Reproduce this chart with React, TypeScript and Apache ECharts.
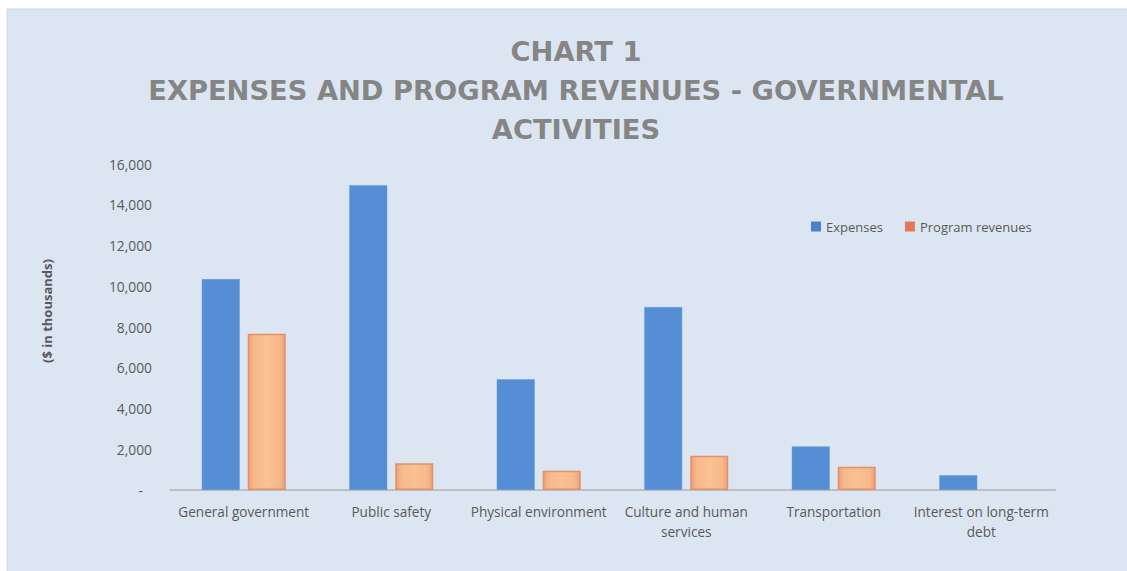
import React, { useEffect, useRef } from "react";
import * as echarts from "echarts";

const categories = [
  "General government",
  "Public safety",
  "Physical environment",
  "Culture and human\nservices",
  "Transportation",
  "Interest on long-term\ndebt",
];
const expenses = [10350, 14960, 5430, 8980, 2140, 720];
const programRevenues = [7670, 1310, 950, 1680, 1140, 0];
const yTicks = [0, 2000, 4000, 6000, 8000, 10000, 12000, 14000, 16000];
const titleLines = ["CHART 1", "EXPENSES AND PROGRAM REVENUES - GOVERNMENTAL", "ACTIVITIES"];
const yAxisTitle = "($ in thousands)";

export default function App() {
  const ref = useRef<HTMLDivElement>(null);
  useEffect(() => {
    document.body.style.margin = "0";
    const chart = echarts.init(ref.current!, null, { renderer: "svg" });
    const labelColor = "#595959";
    const font = "'Open Sans', sans-serif";
    chart.setOption({
      animation: false,
      backgroundColor: "#ffffff",
      title: {
        text: titleLines.join("\n"),
        left: 571,
        top: 27,
        textAlign: "center",
        textStyle: {
          color: "#858585",
          fontFamily: "'DejaVu Sans', sans-serif",
          fontWeight: "bold",
          fontSize: 27.3,
          lineHeight: 39,
        },
      },
      graphic: [
        {
          type: "rect",
          z: -10,
          silent: true,
          shape: { x: 7, y: 9, width: 1130, height: 575 },
          style: { fill: "#dce6f2", stroke: "#cfd5dc", lineWidth: 1 },
        },
        {
          type: "text",
          x: 47,
          y: 311,
          rotation: Math.PI / 2,
          style: {
            text: yAxisTitle,
            fill: labelColor,
            font: "bold 13px 'Open Sans', sans-serif",
            align: "center",
            verticalAlign: "middle",
          },
        },
      ],
      legend: {
        data: [
          { name: "Expenses", itemStyle: { color: "#4f81c9", borderWidth: 0 } },
          { name: "Program revenues", itemStyle: { color: "#e4785a", borderWidth: 0 } },
        ],
        left: 806,
        top: 215,
        itemWidth: 10,
        itemHeight: 10,
        itemGap: 22,
        icon: "rect",
        textStyle: { color: labelColor, fontFamily: font, fontSize: 13 },
      },
      grid: { left: 170, right: 72, top: 164, bottom: 81, containLabel: false },
      xAxis: {
        type: "category",
        data: categories,
        axisLine: { show: true, lineStyle: { color: "#bfbfbf", width: 2 } },
        axisTick: { show: false },
        axisLabel: {
          color: labelColor,
          fontFamily: font,
          fontSize: 13.6,
          lineHeight: 20,
          margin: 11,
          interval: 0,
        },
      },
      yAxis: {
        type: "value",
        min: 0,
        max: yTicks[yTicks.length - 1],
        interval: yTicks[1] - yTicks[0],
        axisLine: { show: false },
        axisTick: { show: false },
        splitLine: { show: false },
        axisLabel: {
          color: labelColor,
          fontFamily: font,
          fontSize: 13.8,
          margin: 18,
          formatter: (v: number) =>
            v === 0 ? "{d|-}" : v.toLocaleString("en-US"),
          rich: { d: { padding: [0, 9, 0, 0], color: labelColor, fontFamily: font, fontSize: 13.8 } },
        },
      },
      series: [
        {
          name: "Expenses",
          type: "bar",
          data: expenses,
          barWidth: 38,
          barGap: "21%",
          itemStyle: { color: "#558ed5", borderColor: "#6a9ddc", borderWidth: 0.5 },
        },
        {
          name: "Program revenues",
          type: "bar",
          data: programRevenues.map((v) => (v === 0 ? "-" : v)),
          barWidth: 38,
          itemStyle: {
            color: {
              type: "linear",
              x: 0,
              y: 0,
              x2: 1,
              y2: 0,
              colorStops: [
                { offset: 0, color: "#ee9f78" },
                { offset: 0.15, color: "#f7b98b" },
                { offset: 0.5, color: "#fac192" },
                { offset: 0.85, color: "#f7b98b" },
                { offset: 1, color: "#ee9f78" },
              ],
            },
            borderColor: "#e58f69",
            borderWidth: 1.5,
          },
        },
      ],
    });
    return () => chart.dispose();
  }, []);
  return (
    <div
      ref={ref}
      style={{ position: "absolute", left: 0, top: 0, width: 1127, height: 571 }}
    />
  );
}
